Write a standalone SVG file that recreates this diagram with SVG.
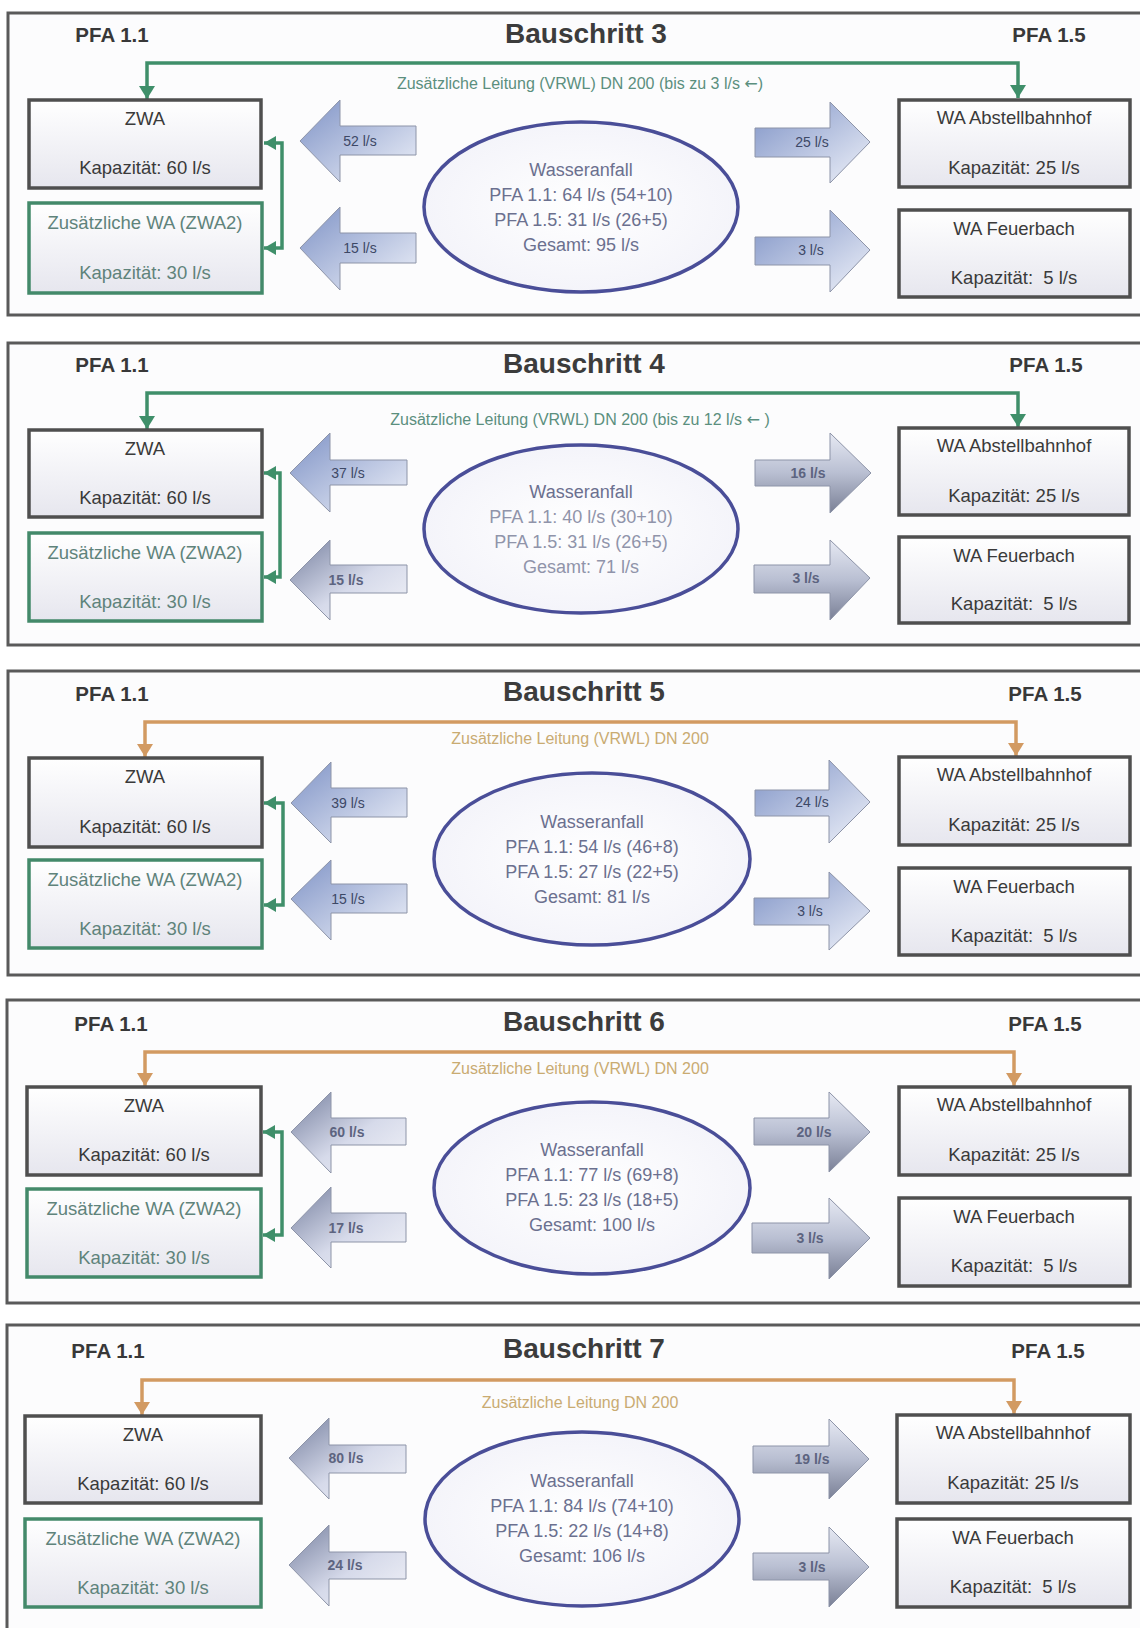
<svg xmlns="http://www.w3.org/2000/svg" width="1140" height="1628" viewBox="0 0 1140 1628">
<defs>
<linearGradient id="boxg" x1="0" y1="0" x2="0" y2="1"><stop offset="0" stop-color="#ffffff"/><stop offset="1" stop-color="#e6e6ee"/></linearGradient>
<linearGradient id="arrg" x1="0" y1="0" x2="1" y2="1"><stop offset="0" stop-color="#7f93c6"/><stop offset="1" stop-color="#eef1f9"/></linearGradient>
<linearGradient id="arrdl" x1="0" y1="0" x2="1" y2="1"><stop offset="0" stop-color="#76809f"/><stop offset="0.55" stop-color="#d6daea"/><stop offset="1" stop-color="#f2f3f8"/></linearGradient>
<linearGradient id="arrdr" x1="0" y1="0" x2="0" y2="1"><stop offset="0" stop-color="#e6e9f3"/><stop offset="0.5" stop-color="#b9bfd2"/><stop offset="1" stop-color="#7a8096"/></linearGradient>
<radialGradient id="elg" cx="0.5" cy="0.5" r="0.6"><stop offset="0" stop-color="#ffffff"/><stop offset="1" stop-color="#f2f2f9"/></radialGradient>
<marker id="mg" viewBox="0 0 13 16" refX="13" refY="8" markerWidth="13" markerHeight="16" markerUnits="userSpaceOnUse" orient="auto-start-reverse"><path d="M0,0 L13,8 L0,16 z" fill="#3f8f6a"/></marker>
<marker id="mgs" viewBox="0 0 12 14" refX="12" refY="7" markerWidth="12" markerHeight="14" markerUnits="userSpaceOnUse" orient="auto-start-reverse"><path d="M0,0 L12,7 L0,14 z" fill="#3f8f6a"/></marker>
<marker id="mo" viewBox="0 0 13 16" refX="13" refY="8" markerWidth="13" markerHeight="16" markerUnits="userSpaceOnUse" orient="auto-start-reverse"><path d="M0,0 L13,8 L0,16 z" fill="#d29a62"/></marker>
</defs>
<style>
text{font-family:"Liberation Sans",Arial,sans-serif;text-anchor:middle}
.ar{font-family:"DejaVu Sans",sans-serif}
.panel{fill:#fcfcfd;stroke:#5a5a5a;stroke-width:3}
.box{fill:url(#boxg);stroke:#4f4f4f;stroke-width:3.5}
.gbox{fill:url(#boxg);stroke:#43896a;stroke-width:3.5}
.t{font-size:18.5px;fill:#3a3a3a}
.tg{font-size:18.5px;fill:#5f837b}
.pfa{font-size:20.5px;font-weight:bold;fill:#383838}
.title{font-size:28px;font-weight:bold;fill:#3c3c3c}
.lbl{font-size:16px;fill:#5b8f7e}
.lblo{font-size:16px;fill:#c9ab72}
.el{fill:url(#elg);stroke:#4a4e98;stroke-width:3.5}
.et{font-size:18px;fill:#6b708f}
.etf{font-size:18px;fill:#9094aa}
.arr{fill:url(#arrg);stroke:#8d94a8;stroke-width:1}
.arrl{fill:url(#arrdl);stroke:#8d94a8;stroke-width:1}
.arrr{fill:url(#arrdr);stroke:#8d94a8;stroke-width:1}
.at{font-size:14px;fill:#3d4866}
.ad{font-size:14px;font-weight:bold;fill:#5d6480}
.gl{fill:none;stroke:#3f8f6a;stroke-width:3.5;marker-start:url(#mg);marker-end:url(#mg)}
.gb{fill:none;stroke:#3f8f6a;stroke-width:3.5;marker-start:url(#mgs);marker-end:url(#mgs)}
.ol{fill:none;stroke:#d29a62;stroke-width:3.5;marker-start:url(#mo);marker-end:url(#mo)}
</style>
<rect width="1140" height="1628" fill="#ffffff"/>

<g id="panels">
<rect class="panel" x="8" y="13" width="1140" height="302"/>
<rect class="panel" x="8" y="343" width="1140" height="302"/>
<rect class="panel" x="8" y="671" width="1140" height="304"/>
<rect class="panel" x="7" y="1000" width="1140" height="303"/>
<rect class="panel" x="7" y="1325" width="1140" height="320"/>
</g>

<g id="connectors">
<path class="gl" d="M147,99 V63 H1018 V98"/>
<path class="gb" d="M264,143 H282 V248 H264"/>
<path class="gl" d="M147,429 V393 H1018 V427"/>
<path class="gb" d="M264,473 H280 V577 H264"/>
<path class="ol" d="M145,757 V722 H1016 V756"/>
<path class="gb" d="M264,803 H283 V905 H264"/>
<path class="ol" d="M145,1086 V1052 H1014 V1086"/>
<path class="gb" d="M263,1132 H282 V1235 H263"/>
<path class="ol" d="M142,1415 V1380 H1014 V1414"/>
</g>

<!-- Panel 1: Bauschritt 3 -->
<g id="p3-header">
<text class="pfa" x="112" y="42">PFA 1.1</text>
<text class="title" x="586" y="43">Bauschritt 3</text>
<text class="pfa" x="1049" y="42">PFA 1.5</text>
<text class="lbl" x="580" y="89">Zusätzliche Leitung (VRWL) DN 200 (bis zu 3 l/s <tspan class="ar">←</tspan>)</text>
</g>
<g id="p3-zwa"><rect class="box" x="29" y="100" width="232" height="88"/><text class="t" x="145" y="125">ZWA</text><text class="t" x="145" y="174">Kapazität: 60 l/s</text></g>
<g id="p3-zwa2"><rect class="gbox" x="29" y="203" width="233" height="90"/><text class="tg" x="145" y="229">Zusätzliche WA (ZWA2)</text><text class="tg" x="145" y="279">Kapazität: 30 l/s</text></g>
<g id="p3-abst"><rect class="box" x="899" y="100" width="231" height="87"/><text class="t" x="1014" y="124">WA Abstellbahnhof</text><text class="t" x="1014" y="174">Kapazität: 25 l/s</text></g>
<g id="p3-feu"><rect class="box" x="899" y="210" width="231" height="87"/><text class="t" x="1014" y="235">WA Feuerbach</text><text class="t" x="1014" y="284">Kapazität:&#160; 5 l/s</text></g>
<g id="p3-wasser"><ellipse class="el" cx="581" cy="207" rx="157" ry="85"/>
<text class="et" x="581" y="176">Wasseranfall</text><text class="et" x="581" y="201">PFA 1.1: 64 l/s (54+10)</text><text class="et" x="581" y="226">PFA 1.5: 31 l/s (26+5)</text><text class="et" x="581" y="251">Gesamt: 95 l/s</text></g>
<g id="p3-a1"><polygon class="arr" points="300,141 340,100 340,126 416,126 416,155 340,155 340,182"/><text class="at" x="360" y="146">52 l/s</text></g>
<g id="p3-a2"><polygon class="arr" points="300,248 340,207 340,233 416,233 416,263 340,263 340,290"/><text class="at" x="360" y="253">15 l/s</text></g>
<g id="p3-a3"><polygon class="arr" points="755,128 830,128 830,102 870,142 830,183 830,157 755,157"/><text class="at" x="812" y="147">25 l/s</text></g>
<g id="p3-a4"><polygon class="arr" points="755,237 830,237 830,210 870,250 830,292 830,265 755,265"/><text class="at" x="811" y="255">3 l/s</text></g>

<!-- Panel 2: Bauschritt 4 -->
<g id="p4-header">
<text class="pfa" x="112" y="372">PFA 1.1</text>
<text class="title" x="584" y="373">Bauschritt 4</text>
<text class="pfa" x="1046" y="372">PFA 1.5</text>
<text class="lbl" x="580" y="425">Zusätzliche Leitung (VRWL) DN 200 (bis zu 12 l/s <tspan class="ar">←</tspan> )</text>
</g>
<g id="p4-zwa"><rect class="box" x="29" y="430" width="233" height="87"/><text class="t" x="145" y="455">ZWA</text><text class="t" x="145" y="504">Kapazität: 60 l/s</text></g>
<g id="p4-zwa2"><rect class="gbox" x="29" y="533" width="233" height="88"/><text class="tg" x="145" y="559">Zusätzliche WA (ZWA2)</text><text class="tg" x="145" y="608">Kapazität: 30 l/s</text></g>
<g id="p4-abst"><rect class="box" x="899" y="428" width="230" height="87"/><text class="t" x="1014" y="452">WA Abstellbahnhof</text><text class="t" x="1014" y="502">Kapazität: 25 l/s</text></g>
<g id="p4-feu"><rect class="box" x="899" y="537" width="230" height="86"/><text class="t" x="1014" y="562">WA Feuerbach</text><text class="t" x="1014" y="610">Kapazität:&#160; 5 l/s</text></g>
<g id="p4-wasser"><ellipse class="el" cx="581" cy="529" rx="157" ry="84"/>
<text class="et" x="581" y="498">Wasseranfall</text><text class="etf" x="581" y="523">PFA 1.1: 40 l/s (30+10)</text><text class="etf" x="581" y="548">PFA 1.5: 31 l/s (26+5)</text><text class="etf" x="581" y="573">Gesamt: 71 l/s</text></g>
<g id="p4-a1"><polygon class="arr" points="290,473 330,433 330,460 407,460 407,485 330,485 330,512"/><text class="at" x="348" y="478">37 l/s</text></g>
<g id="p4-a2"><polygon class="arrl" points="290,580 330,540 330,565 407,565 407,593 330,593 330,620"/><text class="ad" x="346" y="585">15 l/s</text></g>
<g id="p4-a3"><polygon class="arrr" points="755,460 830,460 830,433 871,473 830,513 830,486 755,486"/><text class="ad" x="808" y="478">16 l/s</text></g>
<g id="p4-a4"><polygon class="arrr" points="754,565 830,565 830,540 870,578 830,620 830,593 754,593"/><text class="ad" x="806" y="583">3 l/s</text></g>

<!-- Panel 3: Bauschritt 5 -->
<g id="p5-header">
<text class="pfa" x="112" y="701">PFA 1.1</text>
<text class="title" x="584" y="701">Bauschritt 5</text>
<text class="pfa" x="1045" y="701">PFA 1.5</text>
<text class="lblo" x="580" y="744">Zusätzliche Leitung (VRWL) DN 200</text>
</g>
<g id="p5-zwa"><rect class="box" x="29" y="758" width="233" height="89"/><text class="t" x="145" y="783">ZWA</text><text class="t" x="145" y="833">Kapazität: 60 l/s</text></g>
<g id="p5-zwa2"><rect class="gbox" x="29" y="860" width="233" height="88"/><text class="tg" x="145" y="886">Zusätzliche WA (ZWA2)</text><text class="tg" x="145" y="935">Kapazität: 30 l/s</text></g>
<g id="p5-abst"><rect class="box" x="899" y="757" width="231" height="88"/><text class="t" x="1014" y="781">WA Abstellbahnhof</text><text class="t" x="1014" y="831">Kapazität: 25 l/s</text></g>
<g id="p5-feu"><rect class="box" x="899" y="868" width="231" height="87"/><text class="t" x="1014" y="893">WA Feuerbach</text><text class="t" x="1014" y="942">Kapazität:&#160; 5 l/s</text></g>
<g id="p5-wasser"><ellipse class="el" cx="592" cy="859" rx="158" ry="86"/>
<text class="et" x="592" y="828">Wasseranfall</text><text class="et" x="592" y="853">PFA 1.1: 54 l/s (46+8)</text><text class="et" x="592" y="878">PFA 1.5: 27 l/s (22+5)</text><text class="et" x="592" y="903">Gesamt: 81 l/s</text></g>
<g id="p5-a1"><polygon class="arr" points="291,803 331,762 331,788 407,788 407,817 331,817 331,843"/><text class="at" x="348" y="808">39 l/s</text></g>
<g id="p5-a2"><polygon class="arr" points="291,899 331,860 331,884 407,884 407,913 331,913 331,940"/><text class="at" x="348" y="904">15 l/s</text></g>
<g id="p5-a3"><polygon class="arr" points="755,790 829,790 829,760 870,802 829,843 829,816 755,816"/><text class="at" x="812" y="807">24 l/s</text></g>
<g id="p5-a4"><polygon class="arr" points="754,898 829,898 829,872 870,911 829,950 829,925 754,925"/><text class="at" x="810" y="916">3 l/s</text></g>

<!-- Panel 4: Bauschritt 6 -->
<g id="p6-header">
<text class="pfa" x="111" y="1031">PFA 1.1</text>
<text class="title" x="584" y="1031">Bauschritt 6</text>
<text class="pfa" x="1045" y="1031">PFA 1.5</text>
<text class="lblo" x="580" y="1074">Zusätzliche Leitung (VRWL) DN 200</text>
</g>
<g id="p6-zwa"><rect class="box" x="27" y="1087" width="234" height="88"/><text class="t" x="144" y="1112">ZWA</text><text class="t" x="144" y="1161">Kapazität: 60 l/s</text></g>
<g id="p6-zwa2"><rect class="gbox" x="27" y="1189" width="234" height="88"/><text class="tg" x="144" y="1215">Zusätzliche WA (ZWA2)</text><text class="tg" x="144" y="1264">Kapazität: 30 l/s</text></g>
<g id="p6-abst"><rect class="box" x="899" y="1087" width="231" height="88"/><text class="t" x="1014" y="1111">WA Abstellbahnhof</text><text class="t" x="1014" y="1161">Kapazität: 25 l/s</text></g>
<g id="p6-feu"><rect class="box" x="899" y="1198" width="231" height="88"/><text class="t" x="1014" y="1223">WA Feuerbach</text><text class="t" x="1014" y="1272">Kapazität:&#160; 5 l/s</text></g>
<g id="p6-wasser"><ellipse class="el" cx="592" cy="1188" rx="158" ry="86"/>
<text class="et" x="592" y="1156">Wasseranfall</text><text class="et" x="592" y="1181">PFA 1.1: 77 l/s (69+8)</text><text class="et" x="592" y="1206">PFA 1.5: 23 l/s (18+5)</text><text class="et" x="592" y="1231">Gesamt: 100 l/s</text></g>
<g id="p6-a1"><polygon class="arrl" points="291,1132 331,1092 331,1118 406,1118 406,1145 331,1145 331,1173"/><text class="ad" x="347" y="1137">60 l/s</text></g>
<g id="p6-a2"><polygon class="arrl" points="291,1228 331,1187 331,1213 406,1213 406,1242 331,1242 331,1268"/><text class="ad" x="346" y="1233">17 l/s</text></g>
<g id="p6-a3"><polygon class="arrr" points="754,1118 829,1118 829,1092 870,1132 829,1172 829,1145 754,1145"/><text class="ad" x="814" y="1137">20 l/s</text></g>
<g id="p6-a4"><polygon class="arrr" points="752,1223 829,1223 829,1198 870,1238 829,1279 829,1253 752,1253"/><text class="ad" x="810" y="1243">3 l/s</text></g>

<!-- Panel 5: Bauschritt 7 -->
<g id="p7-header">
<text class="pfa" x="108" y="1358">PFA 1.1</text>
<text class="title" x="584" y="1358">Bauschritt 7</text>
<text class="pfa" x="1048" y="1358">PFA 1.5</text>
<text class="lblo" x="580" y="1408">Zusätzliche Leitung DN 200</text>
</g>
<g id="p7-zwa"><rect class="box" x="25" y="1416" width="236" height="87"/><text class="t" x="143" y="1441">ZWA</text><text class="t" x="143" y="1490">Kapazität: 60 l/s</text></g>
<g id="p7-zwa2"><rect class="gbox" x="25" y="1519" width="236" height="88"/><text class="tg" x="143" y="1545">Zusätzliche WA (ZWA2)</text><text class="tg" x="143" y="1594">Kapazität: 30 l/s</text></g>
<g id="p7-abst"><rect class="box" x="897" y="1415" width="233" height="88"/><text class="t" x="1013" y="1439">WA Abstellbahnhof</text><text class="t" x="1013" y="1489">Kapazität: 25 l/s</text></g>
<g id="p7-feu"><rect class="box" x="897" y="1519" width="233" height="88"/><text class="t" x="1013" y="1544">WA Feuerbach</text><text class="t" x="1013" y="1593">Kapazität:&#160; 5 l/s</text></g>
<g id="p7-wasser"><ellipse class="el" cx="582" cy="1519" rx="157" ry="87"/>
<text class="et" x="582" y="1487">Wasseranfall</text><text class="et" x="582" y="1512">PFA 1.1: 84 l/s (74+10)</text><text class="et" x="582" y="1537">PFA 1.5: 22 l/s (14+8)</text><text class="et" x="582" y="1562">Gesamt: 106 l/s</text></g>
<g id="p7-a1"><polygon class="arrl" points="289,1458 329,1418 329,1445 406,1445 406,1473 329,1473 329,1499"/><text class="ad" x="346" y="1463">80 l/s</text></g>
<g id="p7-a2"><polygon class="arrl" points="289,1565 329,1525 329,1552 406,1552 406,1579 329,1579 329,1606"/><text class="ad" x="345" y="1570">24 l/s</text></g>
<g id="p7-a3"><polygon class="arrr" points="753,1446 829,1446 829,1419 869,1459 829,1499 829,1473 753,1473"/><text class="ad" x="812" y="1464">19 l/s</text></g>
<g id="p7-a4"><polygon class="arrr" points="753,1553 829,1553 829,1527 869,1567 829,1607 829,1580 753,1580"/><text class="ad" x="812" y="1572">3 l/s</text></g>
</svg>
